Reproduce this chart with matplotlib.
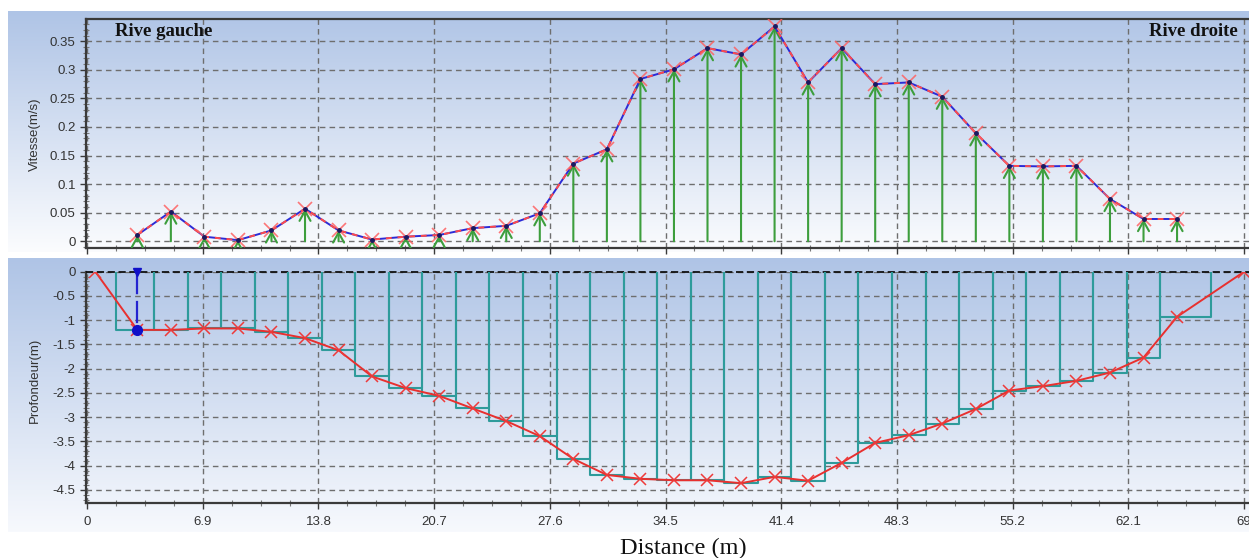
import numpy as np
import matplotlib
matplotlib.use("Agg")
import matplotlib.pyplot as plt
from matplotlib.ticker import MultipleLocator, FixedLocator

# ---------------- data ----------------
vel_x = [3, 5, 7, 9, 11, 13, 15, 17, 19, 21, 23, 25, 27, 29, 31, 33,
         35, 37, 39, 41, 43, 45, 47, 49, 51, 53, 55, 57, 59, 61, 63, 65]
velocity = [0.011, 0.052, 0.008, 0.002, 0.019, 0.057, 0.019, 0.003, 0.008, 0.011,
            0.023, 0.027, 0.049, 0.136, 0.161, 0.284, 0.301, 0.338, 0.327, 0.376,
            0.278, 0.338, 0.275, 0.278, 0.253, 0.189, 0.132, 0.131, 0.132, 0.074,
            0.039, 0.039]

depth_x = [0.5, 3, 5, 7, 9, 11, 13, 15, 17, 19, 21, 23, 25, 27, 29, 31, 33,
           35, 37, 39, 41, 43, 45, 47, 49, 51, 53, 55, 57, 59, 61, 63, 65, 69]
depth = [0.0, -1.20, -1.20, -1.17, -1.17, -1.24, -1.37, -1.62, -2.16, -2.40,
         -2.56, -2.82, -3.08, -3.39, -3.86, -4.19, -4.27, -4.30, -4.30, -4.36,
         -4.23, -4.31, -3.94, -3.53, -3.37, -3.13, -2.83, -2.45, -2.36, -2.25,
         -2.08, -1.77, -0.93, 0.0]

x_ticks = [0, 6.9, 13.8, 20.7, 27.6, 34.5, 41.4, 48.3, 55.2, 62.1, 69]
x_tick_labels = ["0", "6.9", "13.8", "20.7", "27.6", "34.5", "41.4", "48.3", "55.2", "62.1", "69"]
vel_ticks = [0, 0.05, 0.1, 0.15, 0.2, 0.25, 0.3, 0.35]
vel_tick_labels = ["0", "0.05", "0.1", "0.15", "0.2", "0.25", "0.3", "0.35"]
depth_ticks = [0, -0.5, -1, -1.5, -2, -2.5, -3, -3.5, -4, -4.5]
depth_tick_labels = ["0", "-0.5", "-1", "-1.5", "-2", "-2.5", "-3", "-3.5", "-4", "-4.5"]
selected_station = 3

# ---------------- figure ----------------
W, H = 1249, 558
fig = plt.figure(figsize=(W / 100, H / 100), dpi=100)
fig.patch.set_facecolor("white")


def rect(l, t, r, b):
    return [l / W, 1 - b / H, (r - l) / W, (b - t) / H]


def gradient_bg(l, t, r, b, c_top, c_bot):
    bg = fig.add_axes(rect(l, t, r, b), zorder=0)
    n = 256
    top = np.array(matplotlib.colors.to_rgb(c_top))
    bot = np.array(matplotlib.colors.to_rgb(c_bot))
    f = np.linspace(0, 1, n)[:, None]
    img = top[None, :] * (1 - f) + bot[None, :] * f
    img = np.repeat(img[:, None, :], 2, axis=1)
    bg.imshow(img, aspect="auto", extent=[0, 1, 0, 1], origin="upper")
    bg.set_axis_off()
    return bg


gradient_bg(8, 11, 1249, 252, "#afc4e6", "#fbfcfe")
gradient_bg(8, 258, 1249, 532, "#afc4e6", "#f7f9fd")

tick_color = "#333333"
spine_color = "#3a3a3a"
grid_kw = dict(color="#6e6e6e", linestyle=(0, (4, 3)), linewidth=1.0)
XMIN, XMAX = -0.06, 69.29

# ---------------- top: velocity ----------------
ax1 = fig.add_axes(rect(86, 19, 1249, 248.3), zorder=2)
ax1.set_facecolor("none")
ax1.set_xlim(XMIN, XMAX)
ax1.set_ylim(-0.0123, 0.389)
ax1.xaxis.set_major_locator(FixedLocator(x_ticks))
ax1.xaxis.set_minor_locator(MultipleLocator(6.9 / 4))
ax1.set_xticklabels([])
ax1.yaxis.set_major_locator(FixedLocator(vel_ticks))
ax1.set_yticklabels(vel_tick_labels)
ax1.yaxis.set_minor_locator(MultipleLocator(0.01))
ax1.grid(True, which="major", **grid_kw)
ax1.set_axisbelow(True)

for xv, v in zip(vel_x, velocity):
    ann = ax1.annotate("", xy=(xv, v), xytext=(xv, 0),
                       arrowprops=dict(arrowstyle="->,head_length=0.6,head_width=0.33",
                                       color="#3d9e3d", lw=1.5, shrinkA=0, shrinkB=0,
                                       mutation_scale=12), zorder=3)
    ann.arrow_patch.set_clip_box(ax1.bbox)
    ann.arrow_patch.set_clip_on(True)
ax1.plot(vel_x, velocity, color="#2b2bd6", lw=1.4, zorder=4)
ax1.plot(vel_x, velocity, color="#ff4a4a", lw=1.4, linestyle=(0, (3, 3)), zorder=5)
ax1.plot(vel_x, velocity, linestyle="none", marker="x", color="#ff6060", ms=10,
         mew=1.2, alpha=0.85, zorder=6)
ax1.plot(vel_x, velocity, linestyle="none", marker="o", color="#1a1a60", ms=2.5, zorder=7)

ax1.text(115 / W, 1 - 31 / H, "Rive gauche", transform=fig.transFigure,
         family="Liberation Serif", fontweight="bold", fontsize=13.5,
         ha="left", va="center", color="#111111", zorder=10)
ax1.text(1238 / W, 1 - 31 / H, "Rive droite", transform=fig.transFigure,
         family="Liberation Serif", fontweight="bold", fontsize=13.5,
         ha="right", va="center", color="#111111", zorder=10)
fig.text(35 / W, 1 - 134 / H, "Vitesse(m/s)", rotation=90, ha="center", va="center",
         family="Liberation Sans", fontsize=9.5, color=tick_color, zorder=10)

# ---------------- bottom: depth ----------------
ax2 = fig.add_axes(rect(86, 271.7, 1249, 503.3), zorder=2)
ax2.set_facecolor("none")
ax2.set_xlim(XMIN, XMAX)
ax2.set_ylim(-4.775, 0)
ax2.xaxis.set_major_locator(FixedLocator(x_ticks))
ax2.set_xticklabels(x_tick_labels)
ax2.xaxis.set_minor_locator(MultipleLocator(6.9 / 4))
ax2.yaxis.set_major_locator(FixedLocator(depth_ticks))
ax2.set_yticklabels(depth_tick_labels)
ax2.yaxis.set_minor_locator(MultipleLocator(0.1))
ax2.grid(True, which="major", **grid_kw)
ax2.set_axisbelow(True)
ax2.axhline(0, color="#111111", linestyle=(0, (4, 2)), lw=1.3, zorder=3, clip_on=False)

# measurement panels (from midpoint to midpoint)
for i in range(1, len(depth_x) - 1):
    left = (depth_x[i - 1] + depth_x[i]) / 2
    right = (depth_x[i] + depth_x[i + 1]) / 2
    d = depth[i]
    ax2.plot([left, left, right, right], [0, d, d, 0], color="#2e9b9b", lw=1.5, zorder=3)

ax2.plot(depth_x, depth, color="#e8302f", lw=1.4, zorder=4)
ax2.plot(depth_x, depth, linestyle="none", marker="x", color="#ee3a3a", ms=9,
         mew=1.1, zorder=5)

# selected vertical
idx = depth_x.index(selected_station)
ax2.plot([selected_station, selected_station], [0, depth[idx]], color="#2424d0",
         lw=1.6, linestyle=(0, (10, 3)), zorder=6)
ax2.plot([selected_station], [depth[idx]], marker="o", color="#1010c8", ms=7, zorder=7)
ax2.plot([selected_station], [0], marker="v", color="#1010c8", ms=6, zorder=7, clip_on=False)

fig.text(35 / W, 1 - 380 / H, "Profondeur(m)", rotation=90, ha="center", va="center",
         family="Liberation Sans", fontsize=9.5, color=tick_color, zorder=10)

for ax in (ax1, ax2):
    for s in ("left", "bottom", "top"):
        ax.spines[s].set_color(spine_color)
        ax.spines[s].set_linewidth(1.6)
    ax.spines["right"].set_visible(False)
    ax.tick_params(which="major", direction="out", length=4, color=spine_color,
                   labelcolor=tick_color, labelsize=9.5, width=1)
    ax.tick_params(which="minor", direction="inout", length=4, color="#777777", width=0.8)
    for lab in ax.get_xticklabels() + ax.get_yticklabels():
        lab.set_family("Liberation Sans")
ax2.spines["top"].set_visible(False)
ax2.tick_params(axis="x", which="major", pad=5)

fig.text(683 / W, 1 - 548 / H, "Distance (m)", ha="center", va="center",
         family="Liberation Serif", fontsize=17.5, color="#111111")

fig.savefig("out.png", dpi=100)
